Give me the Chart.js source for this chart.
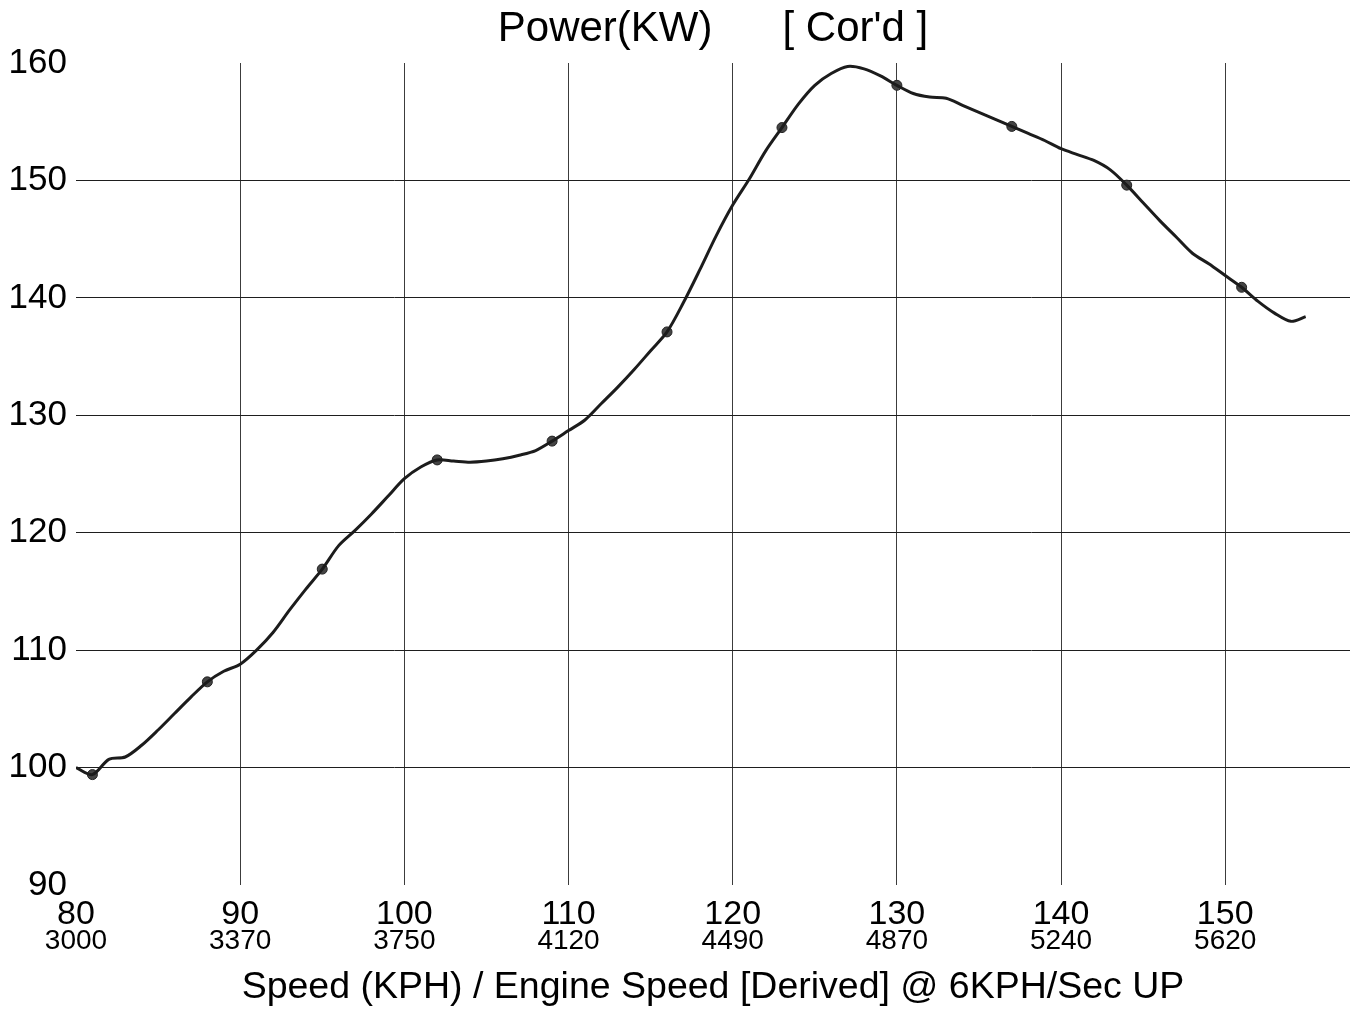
<!DOCTYPE html>
<html>
<head>
<meta charset="utf-8">
<script src="https://cdn.jsdelivr.net/npm/chart.js@4.4.1/dist/chart.umd.min.js"></script>
<style>
  body { margin: 0; background: #fff; }
  #wrap { width: 1359px; height: 1012px; position: relative; }
</style>
</head>
<body>
<div id="wrap"><canvas id="powerChart"></canvas></div>
<script>
  // road speed (kph) along the run and corrected power (kW)
  const speedKph = [80, 81, 82, 83, 84, 85, 86, 87, 88, 89,
    90, 91, 92, 93, 94, 95, 96, 97, 98, 99,
    100, 101, 102, 103, 104, 105, 106, 107, 108, 109,
    110, 111, 112, 113, 114, 115, 116, 117, 118, 119,
    120, 121, 122, 123, 124, 125, 126, 127, 128, 129,
    130, 131, 132, 133, 134, 135, 136, 137, 138, 139,
    140, 141, 142, 143, 144, 145, 146, 147, 148, 149,
    150, 151, 152, 153, 154, 154.9];
  const powerKw = [100.0, 99.4, 100.7, 100.9, 101.9, 103.2, 104.6, 106.0, 107.3, 108.2,
    108.8, 110.0, 111.5, 113.4, 115.2, 116.9, 118.9, 120.2, 121.6, 123.1,
    124.6, 125.6, 126.2, 126.1, 126.0, 126.1, 126.3, 126.6, 127.0, 127.8,
    128.7, 129.6, 131.0, 132.4, 133.9, 135.5, 137.1, 139.6, 142.4, 145.3,
    147.9, 150.1, 152.5, 154.5, 156.5, 158.1, 159.1, 159.7, 159.5, 158.9,
    158.1, 157.4, 157.1, 157.0, 156.4, 155.8, 155.2, 154.6, 154.0, 153.4,
    152.7, 152.2, 151.7, 150.9, 149.6, 148.1, 146.6, 145.2, 143.8, 142.9,
    141.9, 140.9, 139.7, 138.7, 138.0, 138.4];
  // speeds where the sheet puts a dot on the curve
  const markerKph = [81, 88, 95, 102, 109, 116, 123, 130, 137, 144, 151];

  // axis labels
  const kphTicks = [80, 90, 100, 110, 120, 130, 140, 150];
  const rpmLabels = ['3000', '3370', '3750', '4120', '4490', '4870', '5240', '5620'];
  const powerTicks = [90, 100, 110, 120, 130, 140, 150, 160];

  const curve = speedKph.map((s, i) => ({ x: s, y: powerKw[i] }));
  const dots = markerKph.map(s => ({ x: s, y: powerKw[speedKph.indexOf(s)] }));

  const plain = "'Liberation Sans', Arial, sans-serif";

  // engine speed line under each kph label
  const rpmRow = {
    id: 'rpmRow',
    afterDraw(chart) {
      const x = chart.scales.x;
      const c = chart.ctx;
      c.save();
      c.font = '28px ' + plain;
      c.fillStyle = '#000';
      c.textAlign = 'center';
      c.textBaseline = 'middle';
      kphTicks.forEach((v, i) => {
        c.fillText(rpmLabels[i], x.getPixelForValue(v), 941);
      });
      c.restore();
    }
  };

  new Chart(document.getElementById('powerChart'), {
    type: 'line',
    data: {
      datasets: [
        {
          data: curve,
          borderColor: '#1c1c1c',
          borderWidth: 3,
          pointRadius: 0,
          tension: 0.3,
          fill: false,
        },
        {
          data: dots,
          showLine: false,
          pointRadius: 5,
          pointBackgroundColor: '#444',
          pointBorderColor: '#222',
          pointBorderWidth: 1,
        }
      ]
    },
    options: {
      responsive: true,
      maintainAspectRatio: false,
      animation: false,
      layout: { padding: { left: 0, right: 9, top: 0, bottom: 0 } },
      plugins: {
        legend: { display: false },
        tooltip: { enabled: false },
        title: {
          display: true,
          fullSize: false,
          text: "Power(KW)      [ Cor'd ]",
          color: '#000',
          font: { family: plain, size: 42, weight: 'normal' },
          padding: { top: 4, bottom: 8.6 }
        }
      },
      scales: {
        x: {
          type: 'linear',
          min: 80,
          max: 157.6,
          afterBuildTicks: s => { s.ticks = kphTicks.map(v => ({ value: v })); },
          afterFit: s => { s.height = 127; },
          border: { display: false },
          grid: {
            drawTicks: false,
            color: c => (c.tick && c.tick.value === 80 ? 'rgba(0,0,0,0)' : '#3c3c3c'),
            lineWidth: 1
          },
          ticks: {
            padding: 9,
            color: '#000',
            maxRotation: 0,
            font: { family: plain, size: 34 }
          },
          title: {
            display: true,
            text: 'Speed (KPH) / Engine Speed [Derived] @ 6KPH/Sec UP',
            color: '#000',
            font: { family: plain, size: 37.5 },
            padding: { top: 0, bottom: 2 }
          }
        },
        y: {
          min: 90,
          max: 160,
          afterBuildTicks: s => { s.ticks = powerTicks.map(v => ({ value: v })); },
          afterFit: s => { s.width = 76; },
          border: { display: false },
          grid: {
            drawTicks: false,
            color: c => (c.tick && (c.tick.value === 90 || c.tick.value === 160) ? 'rgba(0,0,0,0)' : '#1e1e1e'),
            lineWidth: 1
          },
          ticks: {
            padding: 9,
            color: '#000',
            font: { family: plain, size: 35 }
          }
        }
      }
    },
    plugins: [rpmRow]
  });
</script>
</body>
</html>
